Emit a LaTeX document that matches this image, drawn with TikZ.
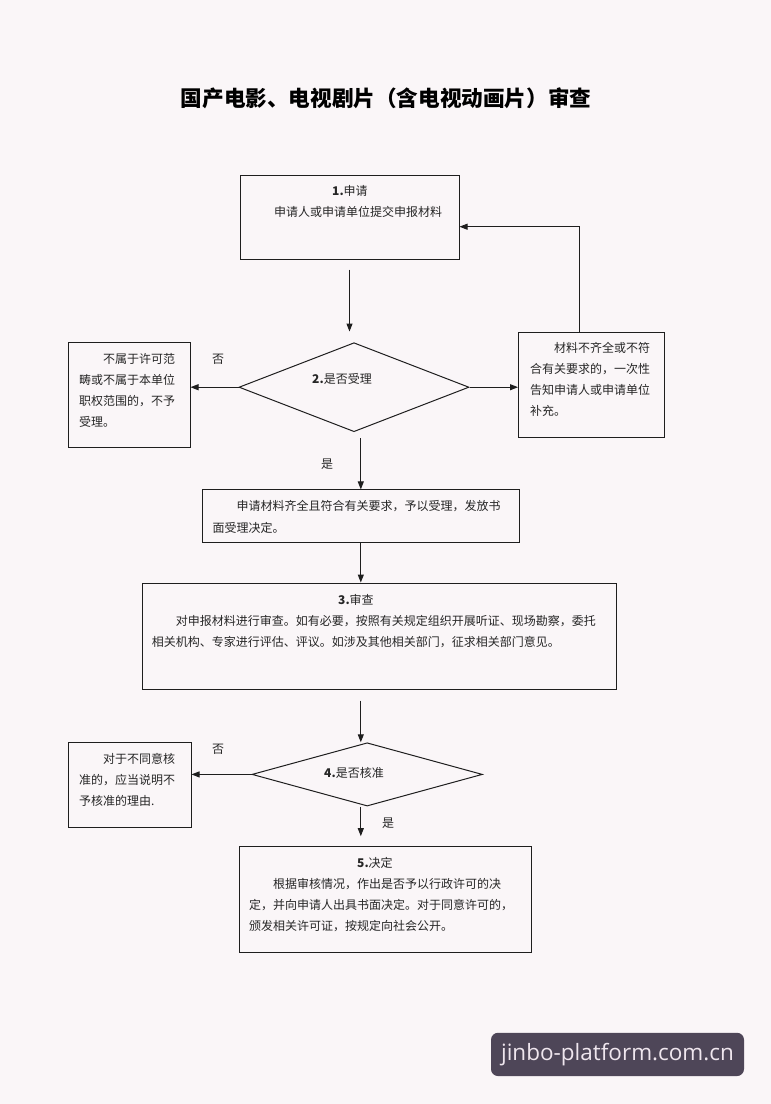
\documentclass[tikz,border=0pt]{standalone}
\usepackage{fontspec}
\setmainfont{Noto Sans CJK SC}
\newfontfamily\wmfont{Open Sans}
\usetikzlibrary{arrows.meta,shapes.geometric,calc}
\definecolor{bg}{HTML}{FAF6F8}
\definecolor{wmbg}{HTML}{4E4658}
\definecolor{wmfg}{HTML}{EFE6EE}
\definecolor{lc}{HTML}{1E1E1E}
\begin{document}
\begin{tikzpicture}[x=1pt,y=-1pt,
  box/.style={draw=lc,line width=1pt,inner sep=0},
  dia/.style={draw=lc,line width=1pt,diamond,inner sep=0},
  txt/.style={anchor=north west,inner sep=0,align=left,font=\fontsize{12}{21}\selectfont,text=black!85},
  lbl/.style={inner sep=0,font=\fontsize{12}{14}\selectfont,text=black!85},
  arr/.style={draw=lc,line width=1pt,-{Triangle[length=8pt,width=6pt]}}
]
\fill[bg] (0,0) rectangle (771,1104);
\useasboundingbox (0,0) rectangle (771,1104);

% title
\node[inner sep=0,font=\bfseries\fontsize{21.6}{26}\selectfont] (title) at (386,98) {国产电影、电视剧片（含电视动画片）审查};

% boxes
\node[box,minimum width=219,minimum height=84] (b1) at (349.5,217) {};
\node[dia,minimum width=230,minimum height=89] (d2) at (354,387.2) {};
\node[box,minimum width=122,minimum height=105] (lb) at (129,395.2) {};
\node[box,minimum width=146,minimum height=105] (rb) at (591.5,384.5) {};
\node[box,minimum width=316.4,minimum height=52.7] (mb) at (360.8,516.3) {};
\node[box,minimum width=474,minimum height=106] (b3) at (379,636) {};
\node[dia,minimum width=230.4,minimum height=63.3] (d4) at (367.2,774.4) {};
\node[box,minimum width=123,minimum height=84.6] (lb2) at (129.5,785) {};
\node[box,minimum width=291.5,minimum height=105.6] (b5) at (385.25,899.5) {};

% texts
\node[txt] (t1) at (274,185.2) {\hspace*{58pt}\textbf{1.}申请\\申请人或申请单位提交申报材料};
\node[lbl] (t2) at (342,379) {\textbf{2.}是否受理};
\node[txt] (tl) at (79,353.5) {\hspace*{2em}不属于许可范\\畴或不属于本单位\\职权范围的，不予\\受理。};
\node[txt] (tr) at (530,342.5) {\hspace*{2em}材料不齐全或不符\\合有关要求的，一次性\\告知申请人或申请单位\\补充。};
\node[txt,font=\fontsize{12}{22}\selectfont] (tm) at (212.5,500.5) {\hspace*{2em}申请材料齐全且符合有关要求，予以受理，发放书\\面受理决定。};
\node[txt] (t3) at (151.6,594.5) {\hspace*{186.4pt}\textbf{3.}审查\\\hspace*{2em}对申报材料进行审查。如有必要，按照有关规定组织开展听证、现场勘察，委托\\相关机构、专家进行评估、评议。如涉及其他相关部门，征求相关部门意见。};
\node[lbl] (t4) at (354,772.7) {\textbf{4.}是否核准};
\node[txt] (tl2) at (79,753.5) {\hspace*{2em}对于不同意核\\准的，应当说明不\\予核准的理由.};
\node[txt] (t5) at (249,857.5) {\hspace*{108pt}\textbf{5.}决定\\\hspace*{2em}根据审核情况，作出是否予以行政许可的决\\定，并向申请人出具书面决定。对于同意许可的，\\颁发相关许可证，按规定向社会公开。};

% edge labels
\node[lbl] (no1) at (218,359) {否};
\node[lbl] (yes1) at (327,464) {是};
\node[lbl] (no2) at (218,749) {否};
\node[lbl] (yes2) at (388,822.7) {是};

% connectors
\draw[arr,shorten <=10,shorten >=10.7] (b1.south) -- (b1.south |- d2.north);
\draw[arr] (d2.west) -- (d2.west -| lb.east);
\draw[arr] (d2.east) -- (d2.east -| rb.west);
\coordinate (fb) at (579.4,226.7);
\draw[arr] (fb |- rb.north) -- (fb) -- (fb -| b1.east);
\draw[arr,shorten <=6] (mb.north |- d2.south) -- (mb.north);
\draw[arr] (mb.south) -- (mb.south |- b3.north);
\draw[arr,shorten <=11] (mb.south |- b3.south) -- (mb.south |- d4.north);
\draw[arr] (d4.west) -- (d4.west -| lb2.east);
\draw[arr,shorten >=10] (mb.south |- d4.south) -- (mb.south |- b5.north);

% watermark
\node[fill=wmbg,rounded corners=7pt,minimum width=253,minimum height=43.3,inner sep=0,text=wmfg,font=\wmfont\fontsize{22.5}{26}\selectfont] (wm) at (617.5,1054.4) {jinbo-platform.com.cn};
\end{tikzpicture}
\end{document}
